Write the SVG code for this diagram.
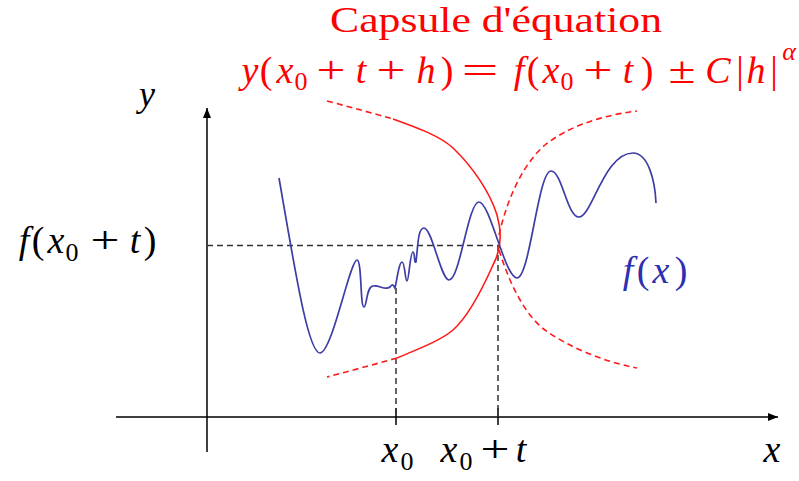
<svg xmlns="http://www.w3.org/2000/svg" width="799" height="481" viewBox="0 0 799 481">
<defs>
<style>
text{font-family:"Liberation Serif","Times New Roman","DejaVu Serif",serif}
.m{font-size:38px;text-anchor:middle}
.i{font-style:italic}
.s{font-size:26px}
.red{fill:#ff0000}
.blk{fill:#000}
.blu{fill:#2e2eb0}
.ax{stroke:#000;stroke-width:1.5;fill:none}
.gd{stroke:#333;stroke-width:1.5;stroke-dasharray:6 4;fill:none}
.rs{stroke:#ff1a1a;stroke-width:1.6;fill:none}
.rd{stroke:#ff1a1a;stroke-width:1.6;fill:none;stroke-dasharray:6 4}
.cv{stroke:#3d3da6;stroke-width:1.7;fill:none}
</style>
<marker id="arr" viewBox="0 0 10 8" refX="10" refY="4" markerWidth="10" markerHeight="8" markerUnits="userSpaceOnUse" orient="auto">
<path d="M0,0 L10,4 L0,8 Z" fill="#000"/>
</marker>
</defs>
<rect width="799" height="481" fill="#fff"/>

<g id="title" class="red">
<text x="330" y="32" font-size="36" textLength="332" lengthAdjust="spacingAndGlyphs">Capsule d'équation</text>
<g class="m">
<text class="i" x="250" y="83">y</text>
<text x="266" y="83">(</text>
<text class="i" x="285" y="83">x</text>
<text class="s" x="301" y="90">0</text>
<text x="331" y="83" textLength="29" lengthAdjust="spacingAndGlyphs">+</text>
<text class="i" x="361" y="83">t</text>
<text x="391" y="83" textLength="29" lengthAdjust="spacingAndGlyphs">+</text>
<text class="i" x="426" y="83">h</text>
<text x="447" y="83">)</text>
<text x="480" y="83" textLength="37" lengthAdjust="spacingAndGlyphs">=</text>
<text class="i" x="519" y="83">f</text>
<text x="533" y="83">(</text>
<text class="i" x="551" y="83">x</text>
<text class="s" x="567" y="90">0</text>
<text x="598" y="83" textLength="29" lengthAdjust="spacingAndGlyphs">+</text>
<text class="i" x="628" y="83">t</text>
<text x="647" y="83">)</text>
<text x="682" y="83" textLength="27" lengthAdjust="spacingAndGlyphs">±</text>
<text class="i" x="718" y="83">C</text>
<text x="740" y="83">|</text>
<text class="i" x="756" y="83">h</text>
<text x="774" y="83">|</text>
<text class="i s" x="789" y="60">α</text>
</g>
</g>

<g id="axes">
<line class="ax" x1="116" y1="417" x2="778" y2="417" marker-end="url(#arr)"/>
<line class="ax" x1="207" y1="452" x2="207" y2="108" marker-end="url(#arr)"/>
<line class="ax" x1="396" y1="408" x2="396" y2="425"/>
<line class="ax" x1="498" y1="408" x2="498" y2="425"/>
</g>

<g id="guides">
<line class="gd" x1="207" y1="245.5" x2="498" y2="245.5"/>
<line class="gd" x1="396" y1="288" x2="396" y2="417"/>
<line class="gd" x1="498" y1="245" x2="498" y2="417"/>
</g>

<g id="capsule">
<path class="rd" d="M327,101 C350,107 372,113 393,119"/>
<path class="rs" d="M393,119 C418,128 440,136 453,148 C472,166 490,192 497,215 C502,232 501,250 493,265 C485,283 470,315 453,330 C440,341 418,349 397,358"/>
<path class="rd" d="M397,358 C372,365 350,371 327,377"/>
<path class="rd" d="M499,235 C508,195 525,162 545,145 C570,125 605,115 637,111"/>
<path class="rd" d="M499,250 C510,285 525,315 545,330 C570,348 605,362 637,368"/>
</g>

<g id="curve">
<path class="cv" d="M279,178 C295,270 308,353 320,353 C332,353 350,260 357,260 C362,260 360,307 364,307 C367,307 366,287 373,286 C380,285 385,291 390,287 C392,284 393,284 395,288 C397,280 399,262 402,262 C405,262 405,281 407,281 C409,281 410,252 413,252 C415,252 414,264 416,262 C418,245 418,228 424,228 C432,228 441,280 449,280 C460,280 468,202 479,202 C490,202 505,278 517,278 C530,278 538,171 551,171 C562,171 567,217 579,217 C592,217 604,153 633,153 C648,153 655,180 656,203"/>
</g>

<g id="labels" class="m">
<text class="i blk" x="147" y="106" font-size="36">y</text>
<g class="blk">
<text class="i" x="24" y="253">f</text>
<text x="38" y="253">(</text>
<text class="i" x="56" y="253">x</text>
<text class="s" x="72" y="261">0</text>
<text x="105" y="253" textLength="29" lengthAdjust="spacingAndGlyphs">+</text>
<text class="i" x="135" y="253">t</text>
<text x="150" y="253">)</text>
</g>
<g class="blu">
<text class="i" x="628" y="283">f</text>
<text x="643" y="283">(</text>
<text class="i" x="661" y="283">x</text>
<text x="681" y="283">)</text>
</g>
<g class="blk">
<text class="i" x="390" y="462">x</text>
<text class="s" x="407" y="470">0</text>
<text class="i" x="449" y="462">x</text>
<text class="s" x="466" y="470">0</text>
<text x="495" y="462" textLength="29" lengthAdjust="spacingAndGlyphs">+</text>
<text class="i" x="521" y="462">t</text>
<text class="i" x="772" y="462">x</text>
</g>
</g>
</svg>
